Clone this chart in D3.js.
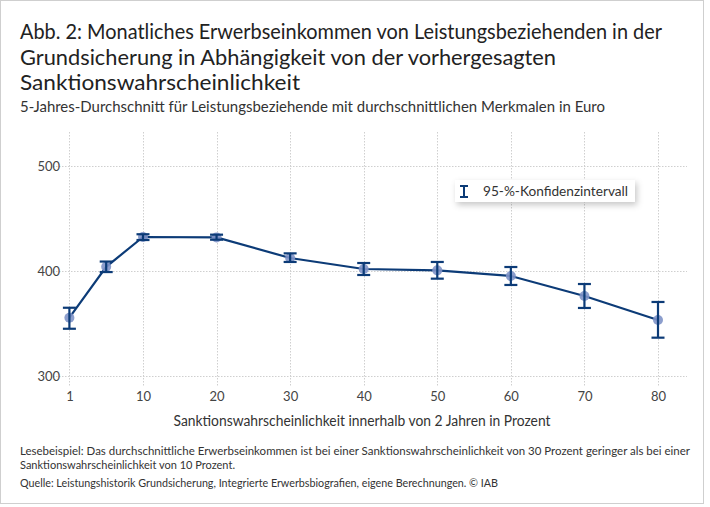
<!DOCTYPE html>
<html>
<head>
<meta charset="utf-8">
<script src="https://cdn.jsdelivr.net/npm/d3@7"></script>
<style>
  body { margin: 0; background: #fff; }
  svg { font-family: Lato, "Open Sans", sans-serif; }
</style>
</head>
<body>
<div id="chart"></div>
<script>
// data
const probabilities = [1, 5, 10, 20, 30, 40, 50, 60, 70, 80];
const income = [355.5, 404, 432.4, 432, 412.4, 401.9, 400.6, 395.2, 376.2, 353.3];
const ciLow = [345, 399, 429.5, 429.8, 408.6, 396.2, 392.7, 386.7, 364.8, 336.5];
const ciHigh = [365, 409, 435, 434.6, 416.8, 407.6, 408.6, 403.8, 387.6, 370.5];
const xTicks = [1, 10, 20, 30, 40, 50, 60, 70, 80];
const yTicks = [300, 400, 500];

const titleLines = [
    "Abb. 2: Monatliches Erwerbseinkommen von Leistungsbeziehenden in der",
    "Grundsicherung in Abhängigkeit von der vorhergesagten",
    "Sanktionswahrscheinlichkeit"
];
const subtitle = "5-Jahres-Durchschnitt für Leistungsbeziehende mit durchschnittlichen Merkmalen in Euro";
const xTitle = "Sanktionswahrscheinlichkeit innerhalb von 2 Jahren in Prozent";
const legendLabel = "95-%-Konfidenzintervall";
const notes = [
    "Lesebeispiel: Das durchschnittliche Erwerbseinkommen ist bei einer Sanktionswahrscheinlichkeit von 30 Prozent geringer als bei einer",
    "Sanktionswahrscheinlichkeit von 10 Prozent.",
    "Quelle: Leistungshistorik Grundsicherung, Integrierte Erwerbsbiografien, eigene Berechnungen.  © IAB"
];

const width = 710;
const height = 507;
const plot = { left: 53, right: 687, top: 132, bottom: 387 };

const lineColor = "#0c3b77";
const dotColor = "#7f93c8";

var svg = d3.select('#chart').append('svg')
    .attr('width', width)
    .attr('height', height);

// drop shadow for legend box
var defs = svg.append('defs');
var filter = defs.append('filter').attr('id', 'shadow')
    .attr('x', '-20%').attr('y', '-40%').attr('width', '140%').attr('height', '200%');
filter.append('feDropShadow')
    .attr('dx', 2).attr('dy', 3).attr('stdDeviation', 3)
    .attr('flood-color', '#000').attr('flood-opacity', 0.22);

// outer frame
svg.append('rect')
    .attr('x', 0.5).attr('y', 0.5)
    .attr('width', 703).attr('height', 503)
    .style('fill', 'none')
    .style('stroke', '#cfcfcf');

// title + subtitle
var titleWidths = [642, 536, 280];
svg.selectAll('text.title')
    .data(titleLines).enter()
    .append('text')
    .attr('class', 'title')
    .attr('x', 20)
    .attr('y', (d, i) => 39 + i * 25.5)
    .attr('textLength', (d, i) => titleWidths[i])
    .attr('lengthAdjust', 'spacingAndGlyphs')
    .style('font-size', '21px')
    .style('fill', '#222')
    .text(d => d);

svg.append('text')
    .attr('x', 20).attr('y', 112)
    .attr('textLength', 585)
    .attr('lengthAdjust', 'spacingAndGlyphs')
    .style('font-size', '15px')
    .style('fill', '#333')
    .text(subtitle);

// scales: the point "1" sits where 0 would be on the axis
var xScale = d3.scaleLinear()
    .domain([1, 5, 80])
    .range([69.4, 106.2, 658]);
var yScale = d3.scaleLinear()
    .domain([300, 500])
    .range([376, 166]);

// grid
var grid = svg.append('g')
    .style('stroke', '#cfcfcf')
    .style('stroke-dasharray', '1.5,1.5')
    .style('stroke-width', 1);
grid.selectAll('line.gx')
    .data(xTicks).enter()
    .append('line')
    .attr('x1', d => Math.round(xScale(d)) + 0.5)
    .attr('x2', d => Math.round(xScale(d)) + 0.5)
    .attr('y1', plot.top)
    .attr('y2', plot.bottom);
grid.selectAll('line.gy')
    .data(yTicks).enter()
    .append('line')
    .attr('y1', d => Math.round(yScale(d)) + 0.5)
    .attr('y2', d => Math.round(yScale(d)) + 0.5)
    .attr('x1', plot.left)
    .attr('x2', plot.right);

// axes (labels only)
var xAxis = d3.axisBottom(xScale).tickValues(xTicks).tickSize(0).tickPadding(0);
var yAxis = d3.axisLeft(yScale).tickValues(yTicks).tickSize(0).tickPadding(0);

var gx = svg.append('g')
    .attr('transform', `translate(0, 392)`)
    .call(xAxis);
var gy = svg.append('g')
    .attr('transform', `translate(60, 0)`)
    .call(yAxis);
[gx, gy].forEach(g => {
    g.select('.domain').remove();
    g.selectAll('text')
        .style('font-family', 'Lato, sans-serif')
        .style('font-size', '13px')
        .style('fill', '#444');
});
gx.selectAll('text').attr('dy', '0.71em');

svg.append('text')
    .attr('x', 362).attr('y', 426)
    .attr('text-anchor', 'middle')
    .attr('textLength', 377)
    .attr('lengthAdjust', 'spacingAndGlyphs')
    .style('font-size', '14.5px')
    .style('fill', '#333')
    .text(xTitle);

// series
var points = probabilities.map((p, i) => ({ p: p, v: income[i], lo: ciLow[i], hi: ciHigh[i] }));

var line = d3.line()
    .x(d => xScale(d.p))
    .y(d => yScale(d.v));

svg.append('path')
    .datum(points)
    .attr('d', line)
    .style('fill', 'none')
    .style('stroke', lineColor)
    .style('stroke-width', 2.2);

svg.append('g').selectAll('circle')
    .data(points).enter()
    .append('circle')
    .attr('cx', d => xScale(d.p))
    .attr('cy', d => yScale(d.v))
    .attr('r', 5)
    .style('fill', dotColor)
    .style('opacity', 0.9);

var bars = svg.append('g')
    .style('stroke', lineColor)
    .style('stroke-width', 2.2)
    .selectAll('g')
    .data(points).enter()
    .append('g');
bars.append('line')
    .attr('x1', d => xScale(d.p)).attr('x2', d => xScale(d.p))
    .attr('y1', d => yScale(d.hi)).attr('y2', d => yScale(d.lo));
bars.append('line')
    .attr('x1', d => xScale(d.p) - 6.5).attr('x2', d => xScale(d.p) + 6.5)
    .attr('y1', d => yScale(d.hi)).attr('y2', d => yScale(d.hi));
bars.append('line')
    .attr('x1', d => xScale(d.p) - 6.5).attr('x2', d => xScale(d.p) + 6.5)
    .attr('y1', d => yScale(d.lo)).attr('y2', d => yScale(d.lo));

// legend
var legend = svg.append('g').attr('transform', 'translate(455,180)');
legend.append('rect')
    .attr('width', 180).attr('height', 22)
    .style('fill', '#fff')
    .attr('filter', 'url(#shadow)');
var icon = legend.append('g')
    .style('stroke', lineColor)
    .style('stroke-width', 2);
icon.append('line').attr('x1', 9).attr('x2', 9).attr('y1', 6).attr('y2', 17);
icon.append('line').attr('x1', 5).attr('x2', 13).attr('y1', 6).attr('y2', 6);
icon.append('line').attr('x1', 5).attr('x2', 13).attr('y1', 17).attr('y2', 17);
legend.append('text')
    .attr('x', 28).attr('y', 16)
    .attr('textLength', 145)
    .attr('lengthAdjust', 'spacingAndGlyphs')
    .style('font-size', '13.5px')
    .style('fill', '#333')
    .text(legendLabel);

// notes
var noteWidths = [670, 215, 478];
svg.selectAll('text.note')
    .data(notes).enter()
    .append('text')
    .attr('class', 'note')
    .attr('x', 20)
    .attr('y', (d, i) => [455, 469, 487][i])
    .attr('textLength', (d, i) => noteWidths[i])
    .attr('lengthAdjust', 'spacingAndGlyphs')
    .style('font-size', '11.5px')
    .style('fill', '#333')
    .text(d => d);
</script>
</body>
</html>
